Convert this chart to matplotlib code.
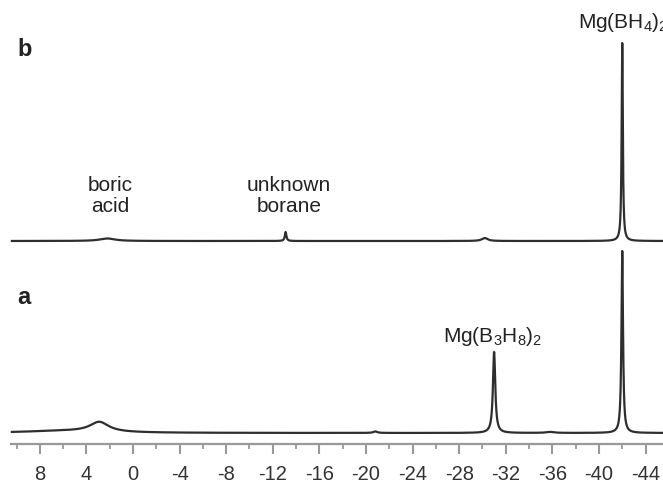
import numpy as np
import matplotlib
matplotlib.use("Agg")
import matplotlib.pyplot as plt
from matplotlib.ticker import MultipleLocator

plt.rcParams['font.family'] = ['Liberation Sans', 'DejaVu Sans']
plt.rcParams['mathtext.fontset'] = 'custom'
plt.rcParams['mathtext.rm'] = 'Liberation Sans'
plt.rcParams['mathtext.it'] = 'Liberation Sans:italic'

# ---- data: peaks (position ppm, height, half-width ppm)
view_range = (11.42, -45.5)
ppm_range = (10.4, -45.5)

# trace a (bottom)
a_offset = 11
a_pos = [2.9, -20.8, -31.0, -35.8, -42.0, 6.0]
a_height = [10, 1.5, 81, 1.0, 182, 2.0]
a_width = [1.0, 0.2, 0.12, 0.4, 0.08, 4.0]

# trace b (top)
b_offset = 203
b_pos = [2.2, -13.1, -30.2, -42.0]
b_height = [2.5, 9, 3, 198]
b_width = [0.8, 0.08, 0.3, 0.06]

major_ticks = [8, 4, 0, -4, -8, -12, -16, -20, -24, -28, -32, -36, -40, -44]


def spectrum(x, pos, height, width, offset):
    y = np.full_like(x, float(offset))
    for p, h, w in zip(pos, height, width):
        y += h * w**2 / ((x - p)**2 + w**2)
    return y


x = np.linspace(ppm_range[0], ppm_range[1], 8000)
ya = spectrum(x, a_pos, a_height, a_width, a_offset)
yb = spectrum(x, b_pos, b_height, b_width, b_offset)

W, H = 663, 483
fig = plt.figure(figsize=(W / 100, H / 100), dpi=100)
axis_y = 39  # pixels from bottom where the axis line sits
ax = fig.add_axes([0, axis_y / H, 1, (H - axis_y) / H])
ax.set_xlim(*view_range)
ax.set_ylim(0, H - axis_y)

line_col = '#2e2e2e'
ax.plot(x, ya, color=line_col, lw=1.6, solid_joinstyle='round')
ax.plot(x, yb, color=line_col, lw=1.6, solid_joinstyle='round')

for s in ['top', 'left', 'right']:
    ax.spines[s].set_visible(False)
ax.spines['bottom'].set_color('#999999')
ax.spines['bottom'].set_linewidth(1.6)
ax.spines['bottom'].set_bounds(10.5, -45.5)
ax.set_yticks([])
ax.set_xticks(major_ticks)
ax.set_xticklabels([str(t) for t in major_ticks],
                   family=['Liberation Sans Narrow', 'Liberation Sans', 'DejaVu Sans'],
                   fontsize=14.5, color='#333333')
ax.xaxis.set_minor_locator(MultipleLocator(2))
ax.tick_params(axis='x', which='major', direction='out', length=7, width=1.5,
               color='#999999', pad=8)
ax.tick_params(axis='x', which='minor', direction='out', length=3.5, width=1.3,
               color='#999999')

txt_col = '#222222'
fs = 15
ax.text(-38.2, 422, r'Mg(BH$_4$)$_2$', ha='left', va='center', fontsize=fs, color=txt_col)
ax.text(1.97, 248, 'boric\nacid', ha='center', va='center', fontsize=fs,
        color=txt_col, linespacing=1.15)
ax.text(-13.4, 248, 'unknown\nborane', ha='center', va='center', fontsize=fs,
        color=txt_col, linespacing=1.15)
ax.text(-30.9, 107, r'Mg(B$_3$H$_8$)$_2$', ha='center', va='center', fontsize=fs,
        color=txt_col)

fig.text(17 / W, 1 - 50 / H, 'b', ha='left', va='center', fontsize=17,
         fontweight='bold', color=txt_col)
fig.text(17 / W, 1 - 297 / H, 'a', ha='left', va='center', fontsize=17,
         fontweight='bold', color=txt_col)

fig.savefig('out.png', dpi=100)
